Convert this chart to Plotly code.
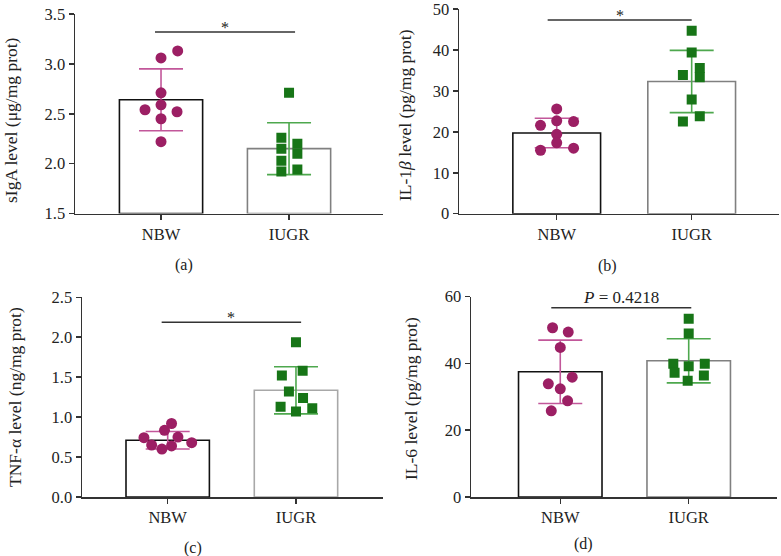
import plotly.graph_objects as go

W, H = 781, 556

groups = ["NBW", "IUGR"]

# Panel (a) sIgA
a_nbw = [3.06, 3.13, 2.71, 2.59, 2.54, 2.52, 2.45, 2.22]
a_iugr = [2.71, 2.26, 2.20, 2.15, 2.10, 2.03, 1.94, 1.92]
a_mean = [2.64, 2.15]
a_sd = [0.31, 0.26]

# Panel (b) IL-1beta
b_nbw = [25.6, 22.7, 21.6, 22.5, 19.4, 17.3, 15.5, 16.0]
b_iugr = [44.7, 39.4, 33.9, 35.6, 33.3, 27.9, 22.5, 23.8]
b_mean = [19.7, 32.3]
b_sd = [3.6, 7.6]

# Panel (c) TNF-alpha
c_nbw = [0.92, 0.835, 0.742, 0.75, 0.68, 0.65, 0.64, 0.60]
c_iugr = [1.937, 1.58, 1.52, 1.32, 1.24, 1.13, 1.11, 1.07]
c_mean = [0.71, 1.336]
c_sd = [0.11, 0.295]

# Panel (d) IL-6
d_nbw = [50.7, 49.4, 44.8, 35.9, 33.9, 32.4, 28.8, 25.8]
d_iugr = [53.4, 49.0, 39.9, 39.9, 39.2, 37.2, 36.4, 34.8]
d_mean = [37.5, 40.8]
d_sd = [9.5, 6.6]

# horizontal scatter offsets (beeswarm layout, category units)
jit_a_nbw = [0, 0.13, 0, 0, -0.125, 0.125, 0, 0]
jit_a_iugr = [0, -0.06, 0.065, -0.06, 0.065, -0.06, 0.065, -0.06]
jit_b_nbw = [0, 0, -0.12, 0.125, 0, 0, -0.12, 0.125]
jit_b_iugr = [0, 0, -0.065, 0.06, 0.06, 0, -0.065, 0.06]
jit_c_nbw = [0.03, -0.025, -0.185, 0.08, 0.187, -0.125, 0.03, -0.045]
jit_c_iugr = [0, 0.052, -0.11, -0.055, 0.055, -0.12, 0.127, 0]
jit_d_nbw = [-0.06, 0.062, 0, 0.093, -0.093, 0, 0.057, -0.07]
jit_d_iugr = [0, 0, -0.12, 0.125, 0, -0.11, 0.118, -0.008]

yticks_a = [1.5, 2.0, 2.5, 3.0, 3.5]
yticks_b = [0, 10, 20, 30, 40, 50]
yticks_c = [0.0, 0.5, 1.0, 1.5, 2.0, 2.5]
yticks_d = [0, 20, 40, 60]

PURPLE = "#9c1f64"
PURPLE_EB = "#c2579a"
GREEN = "#177517"
GREEN_EB = "#4ea84e"
FONT = "Liberation Serif"
TXT = "#222222"

panels = [
    dict(nbw=a_nbw, iugr=a_iugr, mean=a_mean, sd=a_sd, jn=jit_a_nbw, ji=jit_a_iugr,
         box=(75, 383, 14, 213.5), xr=[-0.672, 1.734], yr=[1.5, 3.5], ticks=yticks_a, fmt="%.1f",
         ytitle="sIgA level (μg/mg prot)", tx=11, ty=120, label="(a)", lx=184, ly=265,
         sig="*", sigy=3.32, sigx=[-0.047, 1.047], iugr_line="#808080"),
    dict(nbw=b_nbw, iugr=b_iugr, mean=b_mean, sd=b_sd, jn=jit_b_nbw, ji=jit_b_iugr,
         box=(459, 779, 9, 213.7), xr=[-0.724, 1.647], yr=[0, 50], ticks=yticks_b, fmt="%d",
         ytitle="IL-1<i>β</i> level (pg/mg prot)", tx=405, ty=115, label="(b)", lx=607, ly=266,
         sig="*", sigy=47.3, sigx=[-0.067, 1.0], iugr_line="#808080"),
    dict(nbw=c_nbw, iugr=c_iugr, mean=c_mean, sd=c_sd, jn=jit_c_nbw, ji=jit_c_iugr,
         box=(82, 382.7, 297.3, 497), xr=[-0.668, 1.676], yr=[0, 2.5], ticks=yticks_c, fmt="%.1f",
         ytitle="TNF-α level (ng/mg prot)", tx=15, ty=397, label="(c)", lx=193, ly=548,
         sig="*", sigy=2.187, sigx=[-0.047, 1.04], iugr_line="#a8a8a8"),
    dict(nbw=d_nbw, iugr=d_iugr, mean=d_mean, sd=d_sd, jn=jit_d_nbw, ji=jit_d_iugr,
         box=(471, 776.7, 296.7, 497), xr=[-0.695, 1.685], yr=[0, 60], ticks=yticks_d, fmt="%d",
         ytitle="IL-6 level (pg/mg prot)", tx=411, ty=399, label="(d)", lx=583, ly=544,
         sig="<i>P</i> = 0.4218", sigy=56.7, sigx=[-0.07, 1.02], iugr_line="#808080"),
]

fig = go.Figure()
annotations = []
shapes = []

for i, p in enumerate(panels):
    n = i + 1
    xa = "x" if n == 1 else f"x{n}"
    ya = "y" if n == 1 else f"y{n}"
    xkey = "xaxis" if n == 1 else f"xaxis{n}"
    ykey = "yaxis" if n == 1 else f"yaxis{n}"
    L, R, T, B = p["box"]
    y0 = p["yr"][0]

    # bars (mean) with SD error bars
    for gi, (col, ebcol) in enumerate([("#111111", PURPLE_EB), (p["iugr_line"], GREEN_EB)]):
        fig.add_trace(go.Bar(
            x=[gi], y=[p["mean"][gi] - y0], base=[y0], width=0.65, xaxis=xa, yaxis=ya,
            marker=dict(color="white", line=dict(color=col, width=1.6)),
            error_y=dict(type="data", array=[p["sd"][gi]], visible=True,
                         color=ebcol, thickness=1.6, width=22),
            showlegend=False, hoverinfo="skip",
        ))

    # individual points
    fig.add_trace(go.Scatter(
        x=[0 + j for j in p["jn"]], y=p["nbw"], mode="markers", xaxis=xa, yaxis=ya,
        marker=dict(symbol="circle", size=11, color=PURPLE), showlegend=False))
    fig.add_trace(go.Scatter(
        x=[1 + j for j in p["ji"]], y=p["iugr"], mode="markers", xaxis=xa, yaxis=ya,
        marker=dict(symbol="square", size=10, color=GREEN), showlegend=False))

    axis_common = dict(showline=True, linecolor="#333333", linewidth=1.5, ticks="outside",
                       ticklen=5, tickwidth=1.5, tickcolor="#333333", showgrid=False,
                       zeroline=False, automargin=False, ticklabeloverflow="allow",
                       tickfont=dict(family=FONT, size=16.5, color=TXT))
    fig.layout[xkey] = dict(domain=[L / W, R / W], range=p["xr"], anchor=ya,
                            tickvals=[0, 1], ticktext=groups, **axis_common)
    fig.layout[ykey] = dict(domain=[1 - B / H, 1 - T / H], range=p["yr"], anchor=xa,
                            tickvals=p["ticks"], ticktext=[p["fmt"] % t for t in p["ticks"]],
                            **axis_common)

    # significance bar and label
    star = p["sig"] == "*"
    shapes.append(dict(type="line", xref=xa, yref=ya, x0=p["sigx"][0], x1=p["sigx"][1],
                       y0=p["sigy"], y1=p["sigy"], line=dict(color="#333333", width=1.5)))
    annotations.append(dict(xref=xa, yref=ya, x=(p["sigx"][0] + p["sigx"][1]) / 2, y=p["sigy"],
                            text=p["sig"], showarrow=False, yanchor="bottom",
                            yshift=-6 if star else -1,
                            font=dict(family=FONT, size=16 if star else 17, color=TXT)))

    # y axis title
    annotations.append(dict(xref="paper", yref="paper", x=p["tx"] / W, y=1 - p["ty"] / H,
                            text=p["ytitle"], textangle=-90, showarrow=False,
                            xanchor="center", yanchor="middle",
                            font=dict(family=FONT, size=17.5, color=TXT)))
    # panel label
    annotations.append(dict(xref="paper", yref="paper", x=p["lx"] / W, y=1 - p["ly"] / H,
                            text=p["label"], showarrow=False, xanchor="center", yanchor="middle",
                            font=dict(family=FONT, size=16, color=TXT)))

fig.update_layout(template="none", width=W, height=H, margin=dict(l=0, r=0, t=0, b=0, pad=0),
                  paper_bgcolor="white", plot_bgcolor="white", hovermode=False,
                  annotations=annotations, shapes=shapes, barmode="overlay")

fig.write_html("out.html", config={"displayModeBar": False, "staticPlot": True},
               post_script="document.body.style.margin='0';document.body.style.overflow='hidden';")
